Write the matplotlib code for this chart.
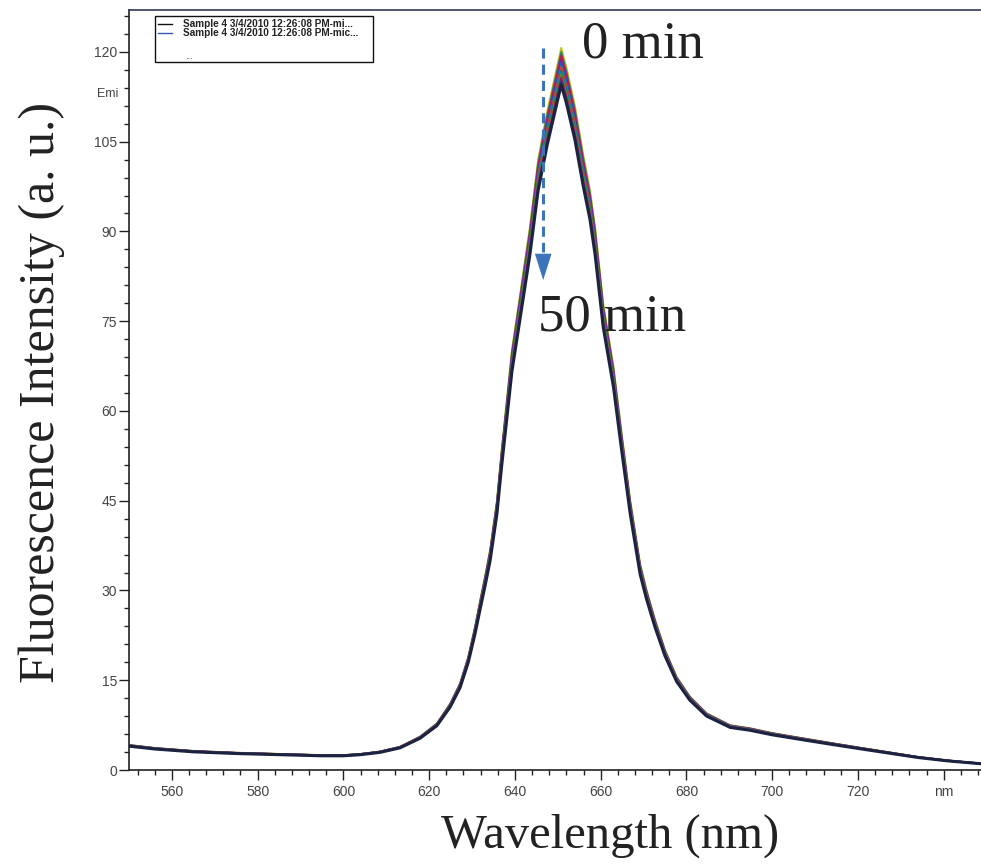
import numpy as np
import matplotlib
matplotlib.use('Agg')
import matplotlib.pyplot as plt
from matplotlib.ticker import MultipleLocator, FixedLocator
from matplotlib.lines import Line2D
from matplotlib.patches import Rectangle

# emission profile of the 0 min spectrum
wavelength = [550, 556, 565, 575, 585, 595, 600, 604, 608.5, 613.2, 617.9, 621.8,
              624.9, 627.2, 629.1, 630.7, 631.9, 633.0, 634.2, 635.8, 636.9, 638.1,
              639.3, 641.0, 643.5, 645.4, 647.5, 649.5, 650.8, 652.0, 654.0, 655.9,
              657.5, 658.7, 660.6, 663.0, 664.9, 666.9, 669.2, 670.7, 672.7, 675.0,
              677.7, 680.8, 684.7, 690.2, 694.8, 700.0, 706.5, 714.0, 720.0, 727.0,
              734.0, 741.0, 748.7]
intensity_0min = [4.2, 3.7, 3.2, 2.9, 2.7, 2.5, 2.5, 2.7, 3.1, 3.9, 5.6, 7.8,
                  11.1, 14.5, 18.9, 24.0, 28.4, 32.3, 36.8, 45.1, 53.5, 61.8,
                  70.2, 78.5, 90.8, 102.0, 110.0, 116.5, 120.7, 117.5, 111.0, 103.0,
                  97.0, 90.8, 78.0, 67.4, 56.3, 45.1, 34.5, 30.1, 25.1, 20.1,
                  15.6, 12.3, 9.5, 7.5, 7.0, 6.2, 5.4, 4.5, 3.8, 3.0,
                  2.2, 1.6, 1.1]

# peak maxima of the spectra recorded every 5 min (0 ... 50 min)
times = [0, 5, 10, 15, 20, 25, 30, 35, 40, 45, 50]
peak_max = [120.7, 120.0, 119.4, 118.7, 118.1, 117.5, 116.9, 116.3, 115.7, 115.1, 114.5]
colors = ['#c8c020', '#2e8b57', '#c2185b', '#7b1fa2', '#1565c0', '#d84315',
          '#00838f', '#558b2f', '#ad1457', '#283593', '#1c2340']

xticks = [560, 580, 600, 620, 640, 660, 680, 700, 720, 740]
xticklabels = ['560', '580', '600', '620', '640', '660', '680', '700', '720', 'nm']
yticks = [0, 15, 30, 45, 60, 75, 90, 105, 120]

legend_labels = ['Sample 4 3/4/2010 12:26:08 PM-mi...',
                 'Sample 4 3/4/2010 12:26:08 PM-mic...', '...']

W, H = 981, 866
fig = plt.figure(figsize=(W / 100, H / 100), dpi=100)
ax = fig.add_axes([129 / W, (H - 770) / H, (W - 129) / W, 760 / H])

wl = np.array(wavelength)
base = np.array(intensity_0min)
for t, pk, c in zip(times, peak_max, colors):
    lw = 2.2 if t == times[-1] else 1.3
    ax.plot(wl, base * pk / peak_max[0], color=c, lw=lw, solid_joinstyle='round')

ax.set_xlim(550, 748.7)
ax.set_ylim(0, 127)

ax.xaxis.set_major_locator(FixedLocator(xticks))
ax.set_xticklabels(xticklabels)
ax.xaxis.set_minor_locator(MultipleLocator(4))
ax.yaxis.set_major_locator(FixedLocator(yticks))
ax.yaxis.set_minor_locator(MultipleLocator(3))
ax.tick_params(which='major', direction='out', length=7, width=1.0, color='#222',
               labelsize=10, labelcolor='#444')
ax.tick_params(which='minor', direction='out', length=3.6, width=1.0, color='#222')
ax.tick_params(axis='y', pad=1.5)
ax.tick_params(axis='x', pad=3.5)
for lab in ax.get_xticklabels() + ax.get_yticklabels():
    lab.set_family('Liberation Sans')

ax.spines['right'].set_visible(False)
ax.spines['left'].set_color('#222')
ax.spines['bottom'].set_color('#222')
ax.spines['top'].set_color('#2e3a55')
for s in ax.spines.values():
    s.set_linewidth(1.2)

# "Emi" axis tag
ax.text(-0.013, 113, 'Emi', transform=ax.get_yaxis_transform(), ha='right', va='center',
        fontsize=9, color='#444', family='Liberation Sans')

# dashed arrow 0 -> 50 min
ax.plot([646.6, 646.6], [120.7, 86.5], color='#3b74b8', lw=2.2, dashes=(3.3, 2.0))
ax.annotate('', xy=(646.6, 81.4), xytext=(646.6, 86.5),
            arrowprops=dict(arrowstyle='-|>,head_length=1.9,head_width=0.6',
                            mutation_scale=10, color='#3b74b8', lw=0))

serif = 'Liberation Serif'
ax.text(655.7, 119.0, '0 min', fontsize=38, family=serif, color='#222', va='baseline')
ax.text(645.4, 73.5, '50 min', fontsize=38, family=serif, color='#222', va='baseline')

fig.text(42 / W, 1 - 392 / H, 'Fluorescence Intensity (a. u.)', rotation=90,
         ha='center', va='center', fontsize=36, family=serif, color='#222')
fig.text(610 / W, 1 - 848 / H, 'Wavelength (nm)', ha='center', va='baseline',
         fontsize=35, family=serif, color='#222')

# instrument legend box
fig.patches.append(Rectangle((155 / W, 1 - 62 / H), 218 / W, 46 / H, transform=fig.transFigure,
                             fill=False, edgecolor='#111', lw=1.0))
for i, (lab, c) in enumerate(zip(legend_labels[:2], ['#111', '#3b5bb0'])):
    y = 1 - (24 + 9 * i) / H
    fig.lines.append(Line2D([158 / W, 172 / W], [y, y], transform=fig.transFigure, color=c, lw=1.0))
    fig.text(183 / W, y, lab, fontsize=7.2, family='Liberation Sans', color='#222',
             va='center', weight='bold')
fig.text(185 / W, 1 - 56 / H, legend_labels[2], fontsize=7, family='Liberation Sans',
         color='#444', va='center')

fig.savefig('out.png', dpi=100)
